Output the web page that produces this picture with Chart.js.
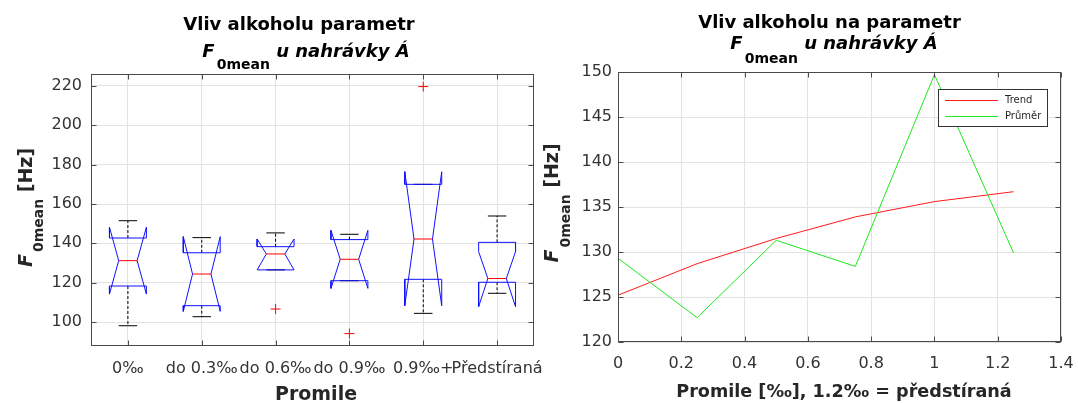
<!DOCTYPE html>
<html>
<head>
<meta charset="utf-8">
<script src="https://cdn.jsdelivr.net/npm/chart.js@4.4.1/dist/chart.umd.min.js"></script>
<style>
  html, body { margin: 0; padding: 0; background: #fff; }
  #wrap { position: relative; width: 1078px; height: 403px; overflow: hidden; }
  .pane { position: absolute; top: 0; height: 403px; }
  #leftPane { left: 0; width: 560px; z-index: 2; }
  #rightPane { left: 540px; width: 538px; z-index: 1; }
</style>
</head>
<body>
<div id="wrap">
  <div class="pane" id="leftPane"><canvas id="boxChart"></canvas></div>
  <div class="pane" id="rightPane"><canvas id="lineChart"></canvas></div>
</div>
<script>
// ---- Box plot: F0mean per alcohol group ----
const groups      = ['0‰', 'do 0.3‰', 'do 0.6‰', 'do 0.9‰', '0.9‰+', 'Předstíraná'];
const whiskerHigh = [151.5, 142.9, 145.3, 144.6, 170.0, 153.9];
const quart3      = [142.7, 135.2, 138.3, 141.9, 170.0, 140.5];
const notchHigh   = [148.2, 143.4, 142.2, 146.6, 176.4, 135.8];
const medians     = [131.2, 124.4, 134.6, 131.9, 142.2, 122.1];
const notchLow    = [114.2, 105.4, 126.5, 117.1, 108.3, 107.8];
const quart1      = [118.3, 108.3, 126.5, 121.0, 121.7, 120.2];
const whiskerLow  = [ 98.1, 102.7, 126.5, 121.0, 104.4, 114.6];
const outliers    = [[], [], [106.6], [94.1], [219.7], []];
const boxYTicks   = [100, 120, 140, 160, 180, 200, 220];

// ---- Line chart: trend vs. mean ----
const promile    = [0, 0.25, 0.5, 0.75, 1, 1.25];
const trend      = [125.2, 128.7, 131.5, 133.9, 135.6, 136.7];
const average    = [129.3, 122.7, 131.3, 128.4, 149.7, 129.9];
const lineXTicks = [0, 0.2, 0.4, 0.6, 0.8, 1, 1.2, 1.4];
const lineYTicks = [120, 125, 130, 135, 140, 145, 150];

const FAMILY = '"DejaVu Sans", sans-serif';
const AXIS_COLOR = '#4a4a4a';
const GRID_COLOR = '#e3e3e3';
const TEXT_COLOR = '#333333';

// draws a run of differently styled text pieces centred on cx
function drawParts(ctx, parts, cx, baseY) {
  let total = 0;
  parts.forEach(p => {
    ctx.font = p.font;
    p.w = ctx.measureText(p.text).width + (p.gap || 0);
    total += p.w;
  });
  let x = cx - total / 2;
  ctx.textAlign = 'left';
  ctx.textBaseline = 'alphabetic';
  parts.forEach(p => {
    ctx.font = p.font;
    ctx.fillText(p.text, x, baseY + (p.dy || 0));
    x += p.w;
  });
}

function f0Parts(big, small, subDy, tail, tailItalic) {
  return [
    { text: 'F', font: `italic bold ${big}px ${FAMILY}`, gap: 2 },
    { text: '0mean', font: `bold ${small}px ${FAMILY}`, dy: subDy },
    { text: tail, font: `${tailItalic ? 'italic ' : ''}bold ${big}px ${FAMILY}` }
  ];
}

// axes frame with inward tick marks on all four sides, plus titles and legend
const framePlugin = {
  id: 'frame',
  afterDraw(chart, args, opts) {
    const { ctx, chartArea: a, scales: { x, y } } = chart;
    ctx.save();
    ctx.strokeStyle = AXIS_COLOR;
    ctx.lineWidth = 1;
    const L = Math.round(a.left) + 0.5, R = Math.round(a.right) - 0.5;
    const T = Math.round(a.top) + 0.5, B = Math.round(a.bottom) - 0.5;
    ctx.strokeRect(L, T, R - L, B - T);
    ctx.beginPath();
    x.ticks.forEach(t => {
      const px = Math.round(x.getPixelForValue(t.value)) + 0.5;
      ctx.moveTo(px, B); ctx.lineTo(px, B - 5);
      ctx.moveTo(px, T); ctx.lineTo(px, T + 5);
    });
    y.ticks.forEach(t => {
      const py = Math.round(y.getPixelForValue(t.value)) + 0.5;
      ctx.moveTo(L, py); ctx.lineTo(L + 5, py);
      ctx.moveTo(R, py); ctx.lineTo(R - 5, py);
    });
    ctx.stroke();

    // titles
    ctx.fillStyle = '#000';
    ctx.font = `bold 18px ${FAMILY}`;
    ctx.textAlign = 'center';
    ctx.textBaseline = 'alphabetic';
    ctx.fillText(opts.title1.text, opts.title1.cx, opts.title1.y);
    drawParts(ctx, f0Parts(18, 14, opts.title2.subDy, ' u nahrávky Á', true), opts.title2.cx, opts.title2.y);

    // x axis title
    ctx.font = `bold ${opts.xTitle.size}px ${FAMILY}`;
    ctx.textAlign = 'center';
    ctx.fillStyle = '#262626';
    ctx.fillText(opts.xTitle.text, opts.xTitle.cx, opts.xTitle.y);

    // y axis title (rotated)
    ctx.translate(opts.yTitle.x, opts.yTitle.cy);
    ctx.rotate(-Math.PI / 2);
    drawParts(ctx, f0Parts(19, 14, opts.yTitle.subDy, ' [Hz]', false), 0, 0);
    ctx.restore();

    // optional legend inside the plot
    if (opts.legend) {
      const lg = opts.legend;
      const bx = Math.round(a.right - lg.right - lg.w), by = Math.round(a.top + lg.top);
      ctx.save();
      ctx.fillStyle = '#fff';
      ctx.fillRect(bx, by, lg.w, lg.h);
      ctx.strokeStyle = '#333';
      ctx.lineWidth = 1;
      ctx.strokeRect(bx + 0.5, by + 0.5, lg.w, lg.h);
      ctx.font = `10px ${FAMILY}`;
      ctx.textAlign = 'left';
      ctx.textBaseline = 'middle';
      chart.data.datasets.forEach((ds, i) => {
        const ly = by + 11 + i * 16 + 0.5;
        ctx.strokeStyle = ds.borderColor;
        ctx.beginPath();
        ctx.moveTo(bx + 7, ly); ctx.lineTo(bx + 60, ly);
        ctx.stroke();
        ctx.fillStyle = '#262626';
        ctx.fillText(ds.label, bx + 67, ly);
      });
      ctx.restore();
    }
  }
};

// keep the plot area fixed: no extra room for overhanging tick labels
const noOverhangX = h => s => { s.height = h; s.paddingLeft = 0; s.paddingRight = 0; };
const noOverhangY = w => s => { s.width = w; s.paddingTop = 0; s.paddingBottom = 0; };

// ---- build the box plot out of line segments ----
const HALF = 0.25;
const seg = (pts, color, order, extra) => Object.assign({
  data: pts, borderColor: color, borderWidth: 1, showLine: true,
  pointRadius: 0, tension: 0, fill: false, order
}, extra || {});

const boxSets = [];
groups.forEach((g, i) => {
  const c = i + 1;
  const L = c - HALF, R = c + HALF, li = c - HALF / 2, ri = c + HALF / 2;
  boxSets.push(seg([{ x: c, y: quart3[i] }, { x: c, y: whiskerHigh[i] }], '#000', 4, { borderDash: [3, 2] }));
  boxSets.push(seg([{ x: c, y: quart1[i] }, { x: c, y: whiskerLow[i] }], '#000', 4, { borderDash: [3, 2] }));
  boxSets.push(seg([{ x: li, y: whiskerHigh[i] }, { x: ri, y: whiskerHigh[i] }], '#000', 3));
  boxSets.push(seg([{ x: li, y: whiskerLow[i] }, { x: ri, y: whiskerLow[i] }], '#000', 3));
  boxSets.push(seg([
    { x: L, y: quart1[i] }, { x: L, y: notchLow[i] }, { x: li, y: medians[i] },
    { x: L, y: notchHigh[i] }, { x: L, y: quart3[i] }, { x: R, y: quart3[i] },
    { x: R, y: notchHigh[i] }, { x: ri, y: medians[i] }, { x: R, y: notchLow[i] },
    { x: R, y: quart1[i] }, { x: L, y: quart1[i] }
  ], '#1010ff', 2));
  boxSets.push(seg([{ x: li, y: medians[i] }, { x: ri, y: medians[i] }], '#ff0000', 1));
});
boxSets.push({
  data: outliers.flatMap((vals, i) => vals.map(v => ({ x: i + 1, y: v }))),
  showLine: false, pointStyle: 'cross', pointRadius: 5, borderColor: '#ff0000',
  borderWidth: 1, order: 0
});

const tickFont = { family: FAMILY, size: 16 };

new Chart(document.getElementById('boxChart'), {
  type: 'scatter',
  data: { datasets: boxSets },
  plugins: [framePlugin],
  options: {
    responsive: true, maintainAspectRatio: false, animation: false,
    devicePixelRatio: 1, events: [],
    layout: { padding: { top: 74, right: 26, left: 0, bottom: 0 } },
    plugins: {
      legend: { display: false }, tooltip: { enabled: false }, title: { display: false },
      frame: {
        title1: { text: 'Vliv alkoholu parametr', cx: 299, y: 30 },
        title2: { cx: 306, y: 57, subDy: 12 },
        xTitle: { text: 'Promile', cx: 316, y: 400, size: 19 },
        yTitle: { x: 32, cy: 207.5, subDy: 11 }
      }
    },
    scales: {
      x: {
        type: 'linear', min: 0.5, max: 6.5,
        afterBuildTicks: s => { s.ticks = groups.map((g, i) => ({ value: i + 1 })); },
        afterFit: noOverhangX(57),
        grid: { color: GRID_COLOR, drawTicks: false },
        border: { display: false },
        ticks: {
          autoSkip: false, maxRotation: 0, minRotation: 0, padding: 13,
          font: tickFont, color: TEXT_COLOR,
          callback: v => groups[Math.round(v) - 1]
        }
      },
      y: {
        type: 'linear', min: 87.8, max: 226.1,
        afterBuildTicks: s => { s.ticks = boxYTicks.map(v => ({ value: v })); },
        afterFit: noOverhangY(91),
        grid: { color: GRID_COLOR, drawTicks: false },
        border: { display: false },
        ticks: { padding: 9, font: tickFont, color: TEXT_COLOR }
      }
    }
  }
});

new Chart(document.getElementById('lineChart'), {
  type: 'scatter',
  data: {
    datasets: [
      seg(promile.map((p, i) => ({ x: p, y: trend[i] })), '#ff1a1a', 1, { label: 'Trend' }),
      seg(promile.map((p, i) => ({ x: p, y: average[i] })), '#1ee81e', 0, { label: 'Průměr' })
    ]
  },
  plugins: [framePlugin],
  options: {
    responsive: true, maintainAspectRatio: false, animation: false,
    devicePixelRatio: 1, events: [],
    layout: { padding: { top: 72, right: 17, left: 0, bottom: 0 } },
    plugins: {
      legend: { display: false }, tooltip: { enabled: false }, title: { display: false },
      frame: {
        title1: { text: 'Vliv alkoholu na parametr', cx: 289.5, y: 28 },
        title2: { cx: 294, y: 49, subDy: 14 },
        xTitle: { text: 'Promile [‰], 1.2‰ = předstíraná', cx: 304, y: 397, size: 17.6 },
        yTitle: { x: 18, cy: 203, subDy: 12 },
        legend: { right: 14, top: 17, w: 109, h: 37 }
      }
    },
    scales: {
      x: {
        type: 'linear', min: 0, max: 1.4,
        afterBuildTicks: s => { s.ticks = lineXTicks.map(v => ({ value: v })); },
        afterFit: noOverhangX(61),
        grid: { color: GRID_COLOR, drawTicks: false },
        border: { display: false },
        ticks: {
          padding: 12, font: tickFont, color: TEXT_COLOR, maxRotation: 0, autoSkip: false,
          callback: v => String(parseFloat(v.toFixed(1)))
        }
      },
      y: {
        type: 'linear', min: 120, max: 150,
        afterBuildTicks: s => { s.ticks = lineYTicks.map(v => ({ value: v })); },
        afterFit: noOverhangY(78),
        grid: { color: GRID_COLOR, drawTicks: false },
        border: { display: false },
        ticks: { padding: 6, font: tickFont, color: TEXT_COLOR }
      }
    }
  }
});
</script>
</body>
</html>
